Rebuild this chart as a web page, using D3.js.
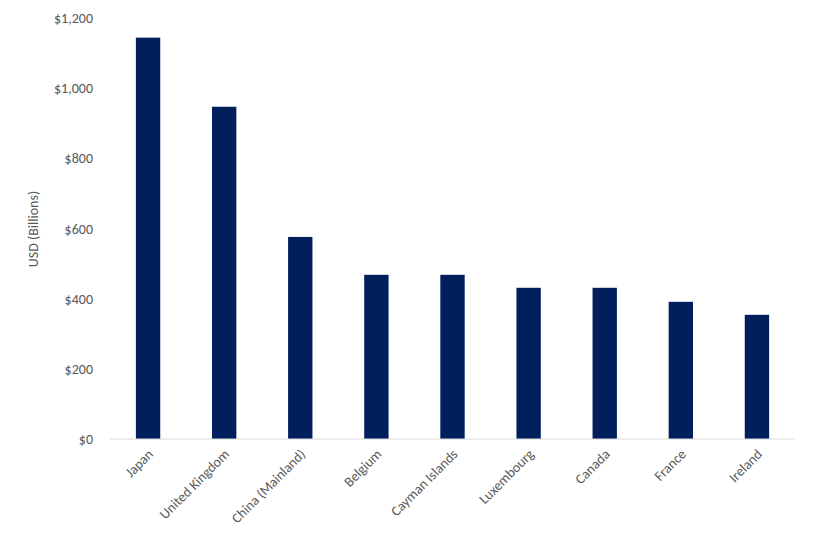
<!DOCTYPE html>
<html><head><meta charset="utf-8">
<script src="https://cdn.jsdelivr.net/npm/d3@7"></script>
<style>body{margin:0;background:#fff}text{font-family:Calibri,"Liberation Sans",Arial,sans-serif}</style>
</head><body><svg id="c" width="815" height="551"></svg>
<script>
const categories=["Japan","United Kingdom","China (Mainland)","Belgium","Cayman Islands","Luxembourg","Canada","France","Ireland"];
const values=[1144,947,576,468,468,431,431,391,354];
const yTicks=[0,200,400,600,800,1000,1200];
const svg=d3.select("#c");
const m={l:110,r:795,t:18,b:439};
const x=d3.scaleBand().domain(categories).range([m.l,m.r]).paddingInner(0.68).paddingOuter(0.34);
const y=d3.scaleLinear().domain([0,1200]).range([m.b,m.t]);
svg.selectAll("rect").data(values).enter().append("rect")
 .attr("x",(d,i)=>x(categories[i])).attr("width",x.bandwidth())
 .attr("y",d=>y(d)).attr("height",d=>y(0)-y(d)).attr("fill","#001F5C");
svg.append("line").attr("x1",m.l).attr("x2",m.r).attr("y1",y(0)).attr("y2",y(0)).attr("stroke","#d9d9d9");
svg.selectAll(".yt").data(yTicks).enter().append("text")
 .attr("x",93).attr("y",d=>y(d)+5).attr("text-anchor","end").attr("font-size",14).attr("fill","#595959")
 .text(d=>"$"+d3.format(",")(d));
svg.selectAll(".xt").data(categories).enter().append("text")
 .attr("transform",d=>`translate(${x(d)+x.bandwidth()/2+6},${y(0)+16}) rotate(-45)`)
 .attr("text-anchor","end").attr("font-size",14).attr("fill","#595959").text(d=>d);
svg.append("text").attr("transform","translate(38,229) rotate(-90)").attr("text-anchor","middle")
 .attr("font-size",14).attr("fill","#595959").text("USD (Billions)");
</script></body></html>
